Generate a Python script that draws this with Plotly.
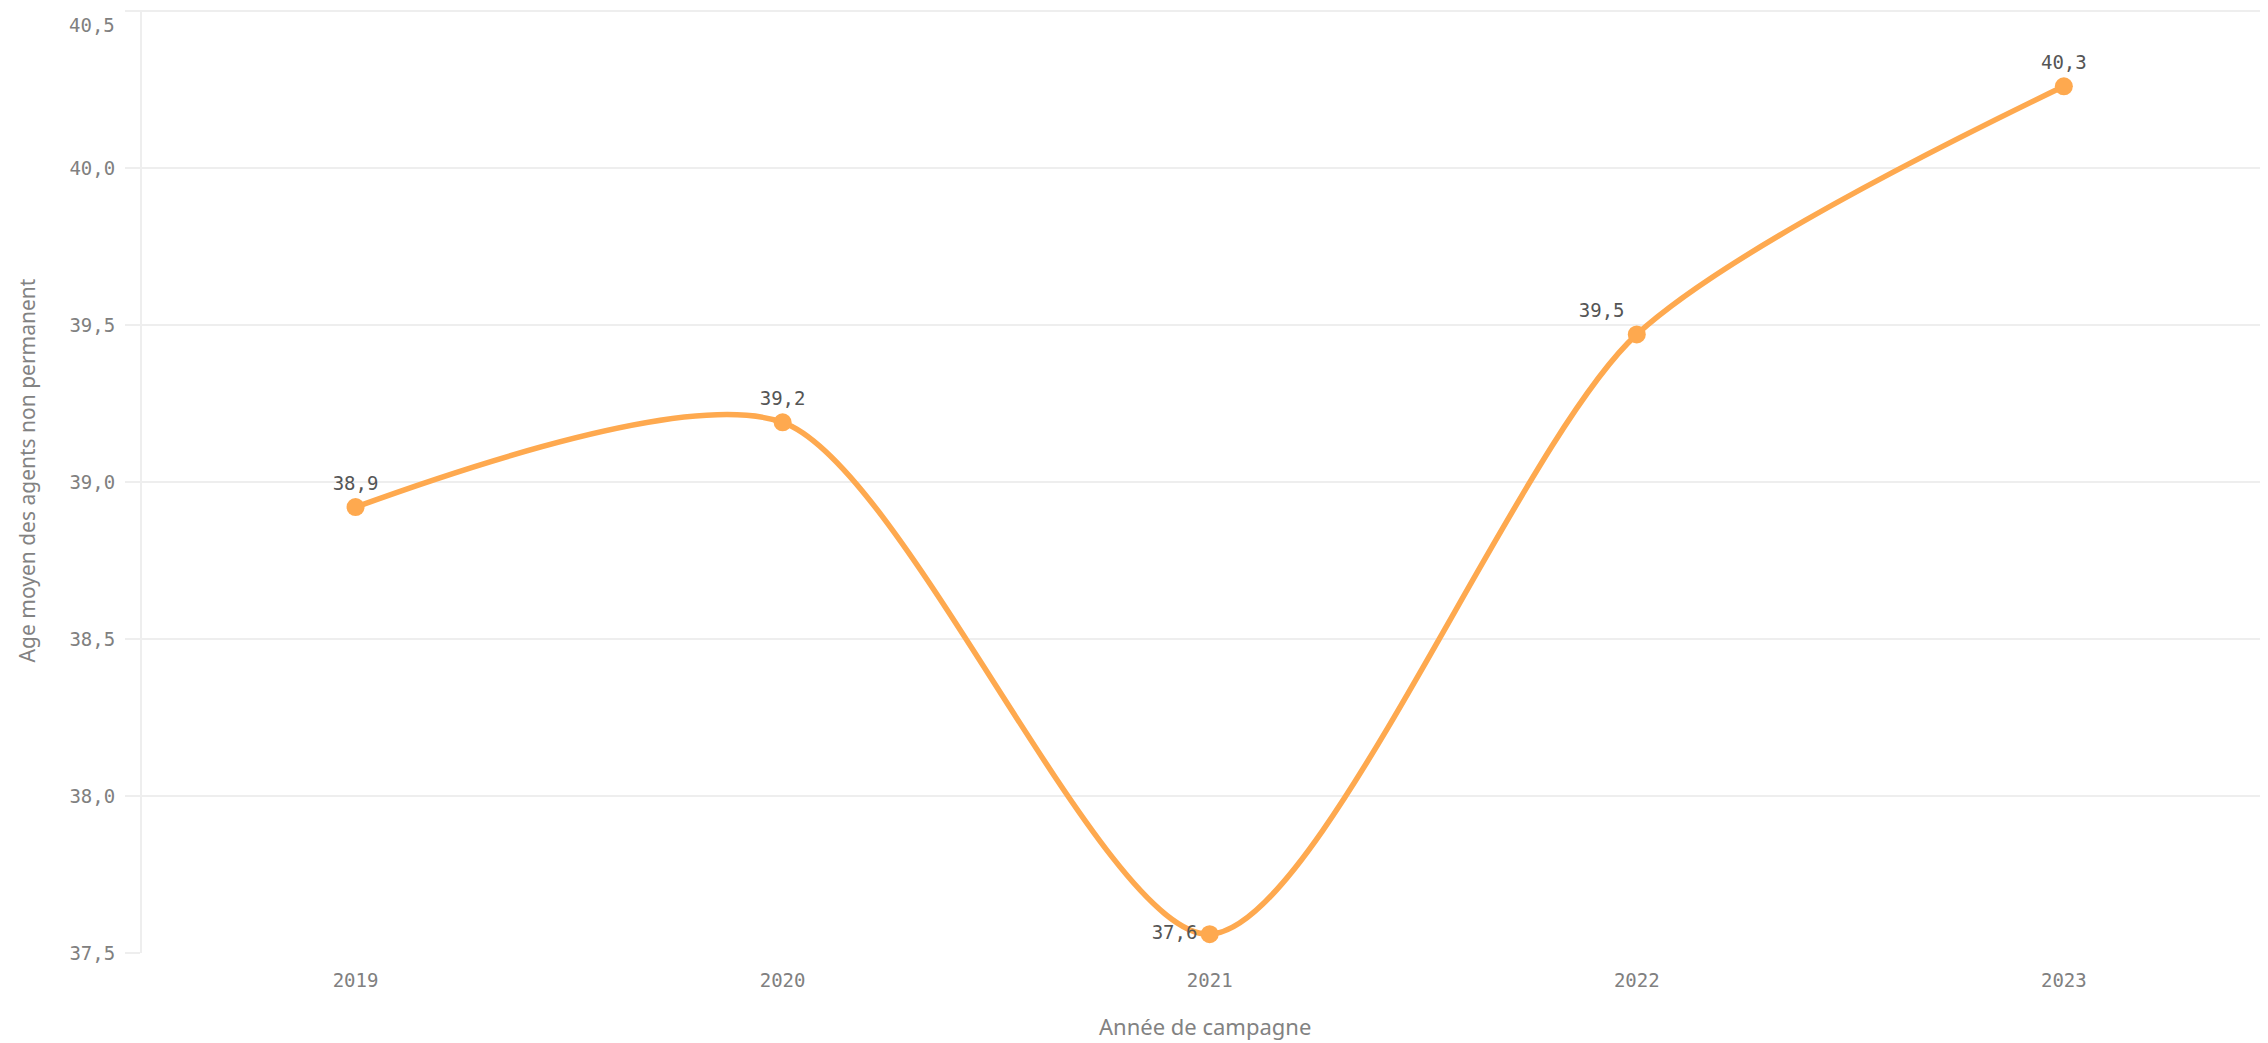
import plotly.graph_objects as go

years = ["2019", "2020", "2021", "2022", "2023"]
ages = [38.92, 39.19, 37.56, 39.47, 40.26]
label_positions = ["top center", "top center", "middle left", "top left", "top center"]
y_ticks = [37.5, 38.0, 38.5, 39.0, 39.5, 40.0, 40.5]

labels = [f"{v:.1f}".replace(".", ",") for v in ages]
tick_text = [f"{v:.1f}".replace(".", ",") for v in y_ticks]
# top label is drawn as an annotation (shifted down inside the chart like the reference)
axis_tick_text = tick_text[:-1] + [""]

orange = "#fea94f"
grid = "#eeeeee"
tick_color = "#808080"

fig = go.Figure()
fig.add_trace(go.Scatter(
    x=list(range(len(years))),
    y=ages,
    mode="lines+markers+text",
    line=dict(color=orange, width=5.5, shape="spline", smoothing=0.75),
    marker=dict(color=orange, size=18),
    text=labels,
    textposition=label_positions,
    textfont=dict(family="DejaVu Sans Mono", size=19, color="#555555"),
    cliponaxis=False,
    hoverinfo="skip",
))

fig.update_layout(
    width=2260, height=1035,
    margin=dict(l=134, r=0, t=2, b=90),
    paper_bgcolor="white", plot_bgcolor="white",
    showlegend=False,
    font=dict(family="Noto Sans", color="#808080"),
    shapes=[
        dict(type="line", xref="paper", yref="y", x0=0, x1=1, y0=y_ticks[-1], y1=y_ticks[-1],
             line=dict(color=grid, width=2), layer="below"),
    ],
    annotations=[
        dict(text="Année de campagne", xref="paper", yref="paper", x=0.5, y=-0.077,
             xanchor="center", yanchor="middle", showarrow=False,
             font=dict(family="Noto Sans", size=22, color="#828282")),
        dict(text="Age moyen des agents non permanent", xref="paper", yref="paper",
             x=-0.054, y=0.512, xanchor="center", yanchor="middle", textangle=-90,
             showarrow=False, font=dict(family="Noto Sans", size=21, color="#828282")),
        dict(text=tick_text[-1], xref="paper", yref="y", x=0, xshift=-25, y=y_ticks[-1], yshift=-14,
             xanchor="right", yanchor="middle", showarrow=False,
             font=dict(family="DejaVu Sans Mono", size=19, color=tick_color)),
    ],
)
fig.update_xaxes(
    range=[-0.5, 4.478],
    tickmode="array",
    tickvals=list(range(len(years))),
    ticktext=years,
    showgrid=False,
    zeroline=False,
    showline=False,
    ticks="",
    automargin=False,
    tickfont=dict(family="DejaVu Sans Mono", size=19, color=tick_color),
    ticklabelstandoff=14,
)
fig.update_yaxes(
    range=[37.5, 40.503],
    tickmode="array",
    tickvals=y_ticks,
    ticktext=axis_tick_text,
    showgrid=True, gridcolor=grid, gridwidth=2,
    zeroline=False,
    showline=True, linecolor=grid, linewidth=2,
    ticks="outside", ticklen=15, tickcolor=grid, tickwidth=2,
    automargin=False,
    ticklabeloverflow="allow",
    tickfont=dict(family="DejaVu Sans Mono", size=19, color=tick_color),
    ticklabelstandoff=6,
)

fig.write_html("out.html")
